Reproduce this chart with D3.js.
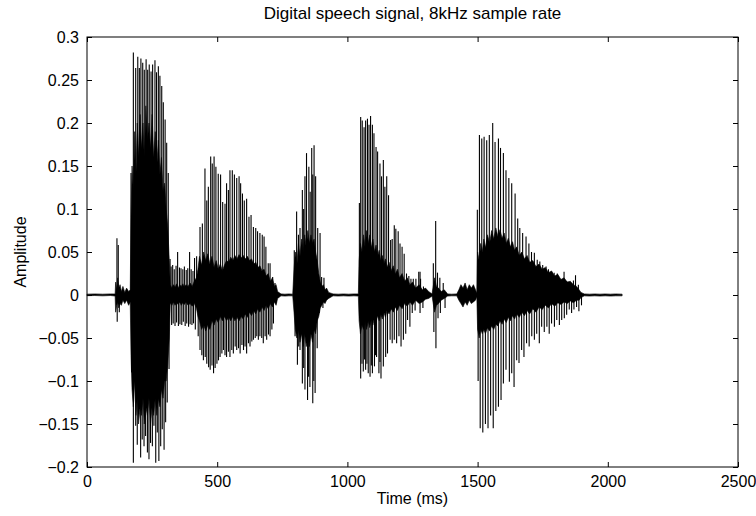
<!DOCTYPE html>
<html>
<head>
<meta charset="utf-8">
<script src="https://cdn.jsdelivr.net/npm/d3@7/dist/d3.min.js"></script>
<style>
body { margin: 0; background: #fff; }
text { font-family: "Liberation Sans", Arial, Helvetica, sans-serif; }
</style>
</head>
<body>
<div id="chart"></div>
<script>
// tick values / labels
const xTicks = [0, 500, 1000, 1500, 2000, 2500];
const yTicks = [-0.2, -0.15, -0.1, -0.05, 0, 0.05, 0.1, 0.15, 0.2, 0.25, 0.3];
const yTickLabels = ["\u22120.2", "\u22120.15", "\u22120.1", "\u22120.05", "0", "0.05", "0.1", "0.15", "0.2", "0.25", "0.3"];

// dense body of the waveform: [time ms, upper, lower]
const coreQuiet1 = [
  [0, 0.001, -0.0008], [30, 0.0013, -0.0006], [60, 0.001, -0.001], [90, 0.0013, -0.0006], [108, 0.0012, -0.0012],
  [110, 0.015, -0.02], [114, 0.006, -0.012], [118, 0.02, -0.008], [122, 0.008, -0.015], [127, 0.012, -0.01],
  [132, 0.004, -0.012], [138, 0.01, -0.006], [145, 0.003, -0.01], [152, 0.008, -0.006], [160, 0.004, -0.012],
  [166, 0.006, -0.008]
];
const coreBurst1 = [
  [169, 0.09, -0.07], [173, 0.15, -0.11], [178, 0.12, -0.13], [183, 0.19, -0.10], [188, 0.14, -0.14],
  [193, 0.20, -0.12], [198, 0.16, -0.15], [204, 0.21, -0.13], [209, 0.17, -0.14], [215, 0.20, -0.12],
  [220, 0.16, -0.15], [226, 0.22, -0.13], [232, 0.18, -0.14], [238, 0.20, -0.12], [244, 0.17, -0.15],
  [250, 0.21, -0.13], [256, 0.16, -0.14], [262, 0.19, -0.12], [268, 0.15, -0.14], [274, 0.18, -0.12],
  [280, 0.14, -0.13], [286, 0.16, -0.11], [292, 0.12, -0.12], [298, 0.13, -0.10], [304, 0.10, -0.10],
  [310, 0.08, -0.08], [316, 0.04, -0.05]
];
const coreGap1 = [
  [320, 0.012, -0.01], [326, 0.008, -0.012], [332, 0.012, -0.008], [338, 0.009, -0.012], [344, 0.013, -0.009],
  [350, 0.008, -0.011], [356, 0.012, -0.008], [362, 0.01, -0.012], [368, 0.013, -0.009], [374, 0.009, -0.011],
  [380, 0.012, -0.008], [388, 0.01, -0.012], [396, 0.014, -0.01], [404, 0.01, -0.013], [412, 0.016, -0.01],
  [420, 0.02, -0.015]
];
const coreBurst2 = [
  [426, 0.03, -0.025], [432, 0.045, -0.03], [440, 0.035, -0.04], [448, 0.05, -0.035], [456, 0.04, -0.042],
  [464, 0.048, -0.035], [472, 0.036, -0.04], [480, 0.045, -0.03], [488, 0.032, -0.035], [496, 0.04, -0.028],
  [504, 0.03, -0.032], [512, 0.036, -0.025], [520, 0.028, -0.03], [528, 0.035, -0.025], [536, 0.04, -0.03],
  [544, 0.038, -0.026], [552, 0.044, -0.03], [560, 0.04, -0.025], [568, 0.046, -0.03], [576, 0.042, -0.026],
  [584, 0.047, -0.03], [592, 0.043, -0.025], [600, 0.046, -0.028], [608, 0.042, -0.022], [616, 0.045, -0.026],
  [624, 0.04, -0.02], [632, 0.042, -0.024], [640, 0.036, -0.018], [648, 0.038, -0.022], [656, 0.032, -0.016],
  [664, 0.034, -0.02], [672, 0.028, -0.014], [680, 0.03, -0.018], [688, 0.022, -0.012], [696, 0.025, -0.016],
  [704, 0.016, -0.01], [712, 0.02, -0.014], [720, 0.01, -0.008], [726, 0.012, -0.012], [732, 0.004, -0.004]
];
const coreQuiet2 = [
  [745, 0.0013, -0.001], [760, 0.001, -0.0013], [775, 0.0013, -0.001], [790, 0.001, -0.001]
];
const coreBurst3 = [
  [795, 0.03, -0.02], [800, 0.05, -0.04], [806, 0.035, -0.05], [812, 0.06, -0.04], [818, 0.045, -0.055],
  [824, 0.065, -0.045], [830, 0.05, -0.06], [836, 0.07, -0.045], [842, 0.055, -0.06], [848, 0.075, -0.05],
  [854, 0.06, -0.06], [860, 0.07, -0.045], [866, 0.06, -0.055], [872, 0.065, -0.04], [878, 0.05, -0.045],
  [884, 0.04, -0.03], [890, 0.025, -0.025], [896, 0.015, -0.015], [902, 0.01, -0.012], [908, 0.012, -0.008],
  [914, 0.006, -0.01], [920, 0.008, -0.006], [928, 0.003, -0.004]
];
const coreQuiet3 = [
  [945, 0.0013, -0.001], [965, 0.001, -0.0013], [985, 0.0013, -0.001], [1005, 0.001, -0.0013],
  [1025, 0.0013, -0.001], [1042, 0.0013, -0.0013]
];
const coreBurst4 = [
  [1045, 0.04, -0.03], [1050, 0.06, -0.045], [1056, 0.05, -0.035], [1062, 0.07, -0.04], [1068, 0.055, -0.03],
  [1074, 0.075, -0.04], [1080, 0.06, -0.03], [1086, 0.07, -0.038], [1092, 0.055, -0.028], [1098, 0.065, -0.035],
  [1104, 0.05, -0.026], [1110, 0.058, -0.032], [1116, 0.045, -0.024], [1122, 0.052, -0.03], [1128, 0.04, -0.022],
  [1134, 0.046, -0.028], [1140, 0.036, -0.02], [1146, 0.042, -0.026], [1152, 0.032, -0.018], [1160, 0.038, -0.022],
  [1168, 0.028, -0.016], [1176, 0.034, -0.02], [1184, 0.024, -0.014], [1192, 0.03, -0.018], [1200, 0.02, -0.012],
  [1210, 0.025, -0.016], [1220, 0.016, -0.01], [1230, 0.02, -0.013], [1240, 0.012, -0.008], [1250, 0.015, -0.012],
  [1262, 0.008, -0.006], [1275, 0.012, -0.01], [1288, 0.006, -0.008], [1300, 0.008, -0.005], [1312, 0.004, -0.004]
];
const coreQuiet4 = [
  [1325, 0.0013, -0.0013], [1335, 0.02, -0.02], [1342, 0.01, -0.012], [1350, 0.008, -0.01], [1360, 0.004, -0.006],
  [1372, 0.006, -0.004], [1385, 0.0013, -0.0013], [1400, 0.001, -0.001], [1420, 0.0013, -0.001],
  [1428, 0.006, -0.006], [1436, 0.012, -0.01], [1444, 0.008, -0.014], [1452, 0.014, -0.008], [1460, 0.006, -0.012],
  [1468, 0.012, -0.006], [1476, 0.008, -0.01], [1484, 0.012, -0.008], [1492, 0.006, -0.006], [1497, 0.002, -0.002]
];
const coreBurst5 = [
  [1500, 0.05, -0.04], [1506, 0.04, -0.05], [1512, 0.06, -0.04], [1518, 0.05, -0.045], [1524, 0.065, -0.04],
  [1530, 0.055, -0.045], [1538, 0.07, -0.038], [1546, 0.06, -0.042], [1554, 0.075, -0.036], [1562, 0.065, -0.04],
  [1570, 0.078, -0.034], [1578, 0.068, -0.036], [1586, 0.076, -0.03], [1594, 0.066, -0.034], [1602, 0.072, -0.028],
  [1610, 0.06, -0.032], [1618, 0.066, -0.026], [1626, 0.056, -0.03], [1634, 0.062, -0.024], [1642, 0.052, -0.028],
  [1650, 0.056, -0.022], [1660, 0.046, -0.026], [1670, 0.05, -0.02], [1680, 0.042, -0.024], [1690, 0.046, -0.018],
  [1700, 0.038, -0.022], [1712, 0.04, -0.016], [1724, 0.033, -0.02], [1736, 0.036, -0.014], [1748, 0.03, -0.017],
  [1760, 0.032, -0.012], [1772, 0.026, -0.015], [1784, 0.028, -0.01], [1796, 0.022, -0.013], [1808, 0.024, -0.009],
  [1820, 0.018, -0.011], [1832, 0.02, -0.008], [1844, 0.015, -0.01], [1856, 0.016, -0.007], [1868, 0.012, -0.009],
  [1880, 0.01, -0.006], [1890, 0.006, -0.006], [1897, 0.003, -0.003]
];
const coreTail = [
  [1910, 0.0013, -0.001], [1930, 0.001, -0.0013], [1950, 0.0013, -0.001], [1970, 0.001, -0.0013],
  [1990, 0.0013, -0.001], [2010, 0.001, -0.0013], [2030, 0.0013, -0.001], [2055, 0.001, -0.001]
];

// pitch pulses, [time ms, peak]
const onsetUp = [[115, 0.066], [120, 0.058]];
const onsetDown = [[116, -0.031], [124, -0.02]];

const burst1Up = [
  [169, 0.142], [178, 0.282], [187, 0.264], [195, 0.277], [201, 0.264], [207, 0.275],
  [214, 0.270], [220, 0.262], [227, 0.274], [233, 0.262], [239, 0.268], [246, 0.260],
  [252, 0.268], [261, 0.273], [267, 0.259], [274, 0.266], [280, 0.255], [287, 0.243],
  [293, 0.224], [300, 0.204], [306, 0.177], [312, 0.142], [319, 0.042]
];
const burst1Down = [
  [171, -0.090], [178, -0.195], [187, -0.152], [193, -0.174], [201, -0.125], [206, -0.189],
  [212, -0.168], [219, -0.176], [225, -0.164], [232, -0.183], [238, -0.191], [244, -0.172],
  [251, -0.176], [257, -0.152], [264, -0.195], [270, -0.160], [276, -0.193], [283, -0.176],
  [289, -0.156], [296, -0.180], [302, -0.148], [308, -0.125], [315, -0.086]
];

const gapUp = [
  [323, 0.033], [329, 0.035], [335, 0.030], [342, 0.034], [348, 0.050], [355, 0.032],
  [361, 0.031], [368, 0.030], [374, 0.033], [381, 0.029], [387, 0.031], [394, 0.050],
  [400, 0.030], [407, 0.028], [413, 0.043]
];
const gapDown = [
  [325, -0.035], [331, -0.033], [338, -0.036], [344, -0.032], [351, -0.036], [357, -0.034],
  [364, -0.035], [370, -0.031], [377, -0.036], [383, -0.033], [390, -0.037], [396, -0.034],
  [403, -0.035], [409, -0.033], [416, -0.040]
];

const burst2Up = [
  [421, 0.045], [434, 0.079], [443, 0.083], [453, 0.147], [460, 0.110], [466, 0.126],
  [475, 0.161], [481, 0.153], [488, 0.161], [495, 0.149], [504, 0.141], [513, 0.140],
  [521, 0.108], [530, 0.106], [536, 0.130], [543, 0.122], [549, 0.145], [558, 0.145],
  [566, 0.140], [575, 0.136], [584, 0.138], [590, 0.130], [597, 0.118], [604, 0.110],
  [613, 0.112], [622, 0.091], [630, 0.093], [639, 0.079], [648, 0.078], [655, 0.074],
  [664, 0.072], [673, 0.070], [680, 0.068], [687, 0.056], [696, 0.037], [703, 0.037],
  [713, 0.021], [722, 0.014]
];
const burst2Down = [
  [427, -0.048], [434, -0.064], [441, -0.070], [447, -0.076], [454, -0.072], [460, -0.080],
  [467, -0.084], [473, -0.087], [480, -0.082], [486, -0.091], [492, -0.085], [499, -0.080],
  [505, -0.076], [511, -0.072], [518, -0.068], [524, -0.064], [530, -0.070], [536, -0.072],
  [543, -0.066], [549, -0.072], [556, -0.064], [562, -0.068], [569, -0.060], [575, -0.064],
  [582, -0.062], [588, -0.068], [595, -0.058], [601, -0.064], [607, -0.060], [613, -0.068],
  [620, -0.056], [626, -0.060], [633, -0.054], [639, -0.052], [646, -0.050], [652, -0.048],
  [658, -0.052], [664, -0.048], [671, -0.050], [677, -0.056], [684, -0.048], [690, -0.052],
  [697, -0.046], [703, -0.048], [710, -0.040], [716, -0.033], [726, -0.010]
];

const burst3Up = [
  [796, 0.052], [805, 0.097], [812, 0.070], [818, 0.078], [827, 0.122], [832, 0.100],
  [837, 0.138], [843, 0.165], [852, 0.149], [857, 0.120], [863, 0.171], [867, 0.140],
  [872, 0.174], [878, 0.138], [886, 0.078], [895, 0.072], [901, 0.021], [910, 0.020]
];
const burst3Down = [
  [799, -0.048], [808, -0.081], [813, -0.060], [818, -0.064], [827, -0.103], [832, -0.085],
  [837, -0.110], [847, -0.122], [851, -0.095], [856, -0.107], [867, -0.126], [871, -0.100],
  [876, -0.114], [884, -0.062], [892, -0.021], [906, -0.015]
];

const burst4Up = [
  [1046, 0.107], [1051, 0.207], [1057, 0.203], [1064, 0.195], [1070, 0.203], [1077, 0.205],
  [1083, 0.198], [1089, 0.208], [1096, 0.198], [1102, 0.188], [1110, 0.172], [1116, 0.167],
  [1125, 0.153], [1131, 0.138], [1138, 0.157], [1144, 0.126], [1151, 0.138], [1158, 0.116],
  [1166, 0.064], [1172, 0.065], [1180, 0.081], [1186, 0.077], [1195, 0.074], [1202, 0.060],
  [1210, 0.056], [1218, 0.048], [1227, 0.025], [1236, 0.022], [1244, 0.019], [1253, 0.019],
  [1263, 0.019], [1274, 0.027], [1281, 0.019], [1292, 0.010]
];
const burst4Down = [
  [1051, -0.097], [1056, -0.080], [1061, -0.089], [1066, -0.075], [1070, -0.087], [1075, -0.080],
  [1080, -0.091], [1087, -0.095], [1092, -0.082], [1096, -0.091], [1104, -0.083], [1108, -0.070],
  [1112, -0.072], [1121, -0.091], [1125, -0.078], [1129, -0.097], [1138, -0.083], [1147, -0.072],
  [1154, -0.068], [1164, -0.052], [1172, -0.056], [1180, -0.052], [1189, -0.056], [1198, -0.048],
  [1206, -0.060], [1215, -0.052], [1224, -0.045], [1231, -0.029], [1240, -0.037], [1249, -0.021],
  [1260, -0.018], [1279, -0.021], [1290, -0.015]
];

const clicksUp = [[1279, 0.027], [1330, 0.037], [1339, 0.086], [1346, 0.026], [1355, 0.020], [1368, 0.014]];
const clicksDown = [[1332, -0.043], [1340, -0.062], [1348, -0.027], [1357, -0.021], [1375, -0.015]];

const burst5Up = [
  [1499, 0.099], [1507, 0.186], [1516, 0.182], [1525, 0.184], [1535, 0.180], [1545, 0.186],
  [1558, 0.200], [1567, 0.178], [1580, 0.182], [1588, 0.171], [1599, 0.165], [1609, 0.145],
  [1620, 0.136], [1631, 0.130], [1644, 0.118], [1654, 0.089], [1662, 0.078], [1673, 0.072],
  [1686, 0.068], [1697, 0.060], [1707, 0.050], [1718, 0.049], [1729, 0.041], [1739, 0.039],
  [1750, 0.035], [1763, 0.033], [1772, 0.030], [1784, 0.027], [1794, 0.026], [1806, 0.025],
  [1816, 0.019], [1832, 0.027], [1842, 0.016], [1855, 0.014], [1868, 0.017], [1876, 0.023],
  [1887, 0.012]
];
const burst5Down = [
  [1502, -0.100], [1510, -0.155], [1520, -0.160], [1530, -0.150], [1540, -0.155], [1550, -0.140],
  [1560, -0.155], [1570, -0.135], [1580, -0.130], [1590, -0.122], [1599, -0.103], [1609, -0.087],
  [1622, -0.101], [1631, -0.091], [1640, -0.107], [1650, -0.076], [1659, -0.079], [1669, -0.064],
  [1678, -0.072], [1688, -0.056], [1698, -0.060], [1708, -0.048], [1718, -0.052], [1727, -0.045],
  [1737, -0.056], [1746, -0.037], [1756, -0.043], [1766, -0.037], [1775, -0.045], [1784, -0.033],
  [1795, -0.037], [1804, -0.029], [1814, -0.035], [1823, -0.029], [1833, -0.027], [1842, -0.023],
  [1852, -0.017], [1861, -0.021], [1870, -0.017], [1880, -0.014], [1889, -0.019], [1899, -0.012]
];

const margin = {top: 37, right: 18, bottom: 49, left: 87},
    W = 756, H = 516,
    width = W - margin.left - margin.right,
    height = H - margin.top - margin.bottom;

const svg = d3.select("#chart").append("svg")
    .attr("width", W)
    .attr("height", H)
    .append("g")
    .attr("transform", `translate(${margin.left},${margin.top})`);

const x = d3.scaleLinear().domain([0, 2500]).range([0, width]);
const y = d3.scaleLinear().domain([-0.2, 0.3]).range([height, 0]);

// waveform body
const core = [].concat(coreQuiet1, coreBurst1, coreGap1, coreBurst2, coreQuiet2, coreBurst3,
    coreQuiet3, coreBurst4, coreQuiet4, coreBurst5, coreTail);

const area = d3.area()
    .x(d => x(d[0]))
    .y0(d => y(d[2]))
    .y1(d => y(d[1]));

svg.append("path")
    .datum(core)
    .attr("d", area)
    .attr("fill", "#000")
    .attr("stroke", "#000")
    .attr("stroke-width", 0.6);

const pulses = [].concat(onsetUp, onsetDown, burst1Up, burst1Down, gapUp, gapDown,
    burst2Up, burst2Down, burst3Up, burst3Down, burst4Up, burst4Down,
    clicksUp, clicksDown, burst5Up, burst5Down);

svg.selectAll(".pulse")
    .data(pulses)
    .join("line")
    .attr("class", "pulse")
    .attr("x1", d => x(d[0]))
    .attr("x2", d => x(d[0]))
    .attr("y1", y(0))
    .attr("y2", d => y(d[1]))
    .attr("stroke", "#000")
    .attr("stroke-width", 1.1);

// axes, ticks pointing inward like matlab
const fmtY = d => yTickLabels[yTicks.indexOf(d)];

svg.append("g")
    .attr("transform", `translate(0,${height})`)
    .call(d3.axisBottom(x).tickValues(xTicks).tickSizeInner(-5).tickSizeOuter(0).tickPadding(9).tickFormat(d3.format("d")));
svg.append("g")
    .call(d3.axisTop(x).tickValues(xTicks).tickSizeInner(-5).tickSizeOuter(0).tickFormat(""));
svg.append("g")
    .call(d3.axisLeft(y).tickValues(yTicks).tickSizeInner(-5).tickSizeOuter(0).tickPadding(8).tickFormat(fmtY));
svg.append("g")
    .attr("transform", `translate(${width},0)`)
    .call(d3.axisRight(y).tickValues(yTicks).tickSizeInner(-5).tickSizeOuter(0).tickFormat(""));

svg.selectAll(".domain").remove();
svg.selectAll(".tick line").attr("stroke", "#000");
svg.selectAll(".tick text")
    .attr("fill", "#000")
    .style("font-size", "16px");

svg.append("rect")
    .attr("width", width)
    .attr("height", height)
    .attr("fill", "none")
    .attr("stroke", "#000")
    .attr("stroke-width", 1);

// titles
svg.append("text")
    .attr("x", width / 2)
    .attr("y", -18)
    .style("text-anchor", "middle")
    .style("font-size", "17px")
    .text("Digital speech signal, 8kHz sample rate");

svg.append("text")
    .attr("x", width / 2)
    .attr("y", height + 37)
    .style("text-anchor", "middle")
    .style("font-size", "16px")
    .text("Time (ms)");

svg.append("text")
    .attr("transform", "rotate(-90)")
    .attr("x", 0 - height / 2)
    .attr("y", 0 - margin.left + 26)
    .style("text-anchor", "middle")
    .style("font-size", "16px")
    .text("Amplitude");
</script>
</body>
</html>
